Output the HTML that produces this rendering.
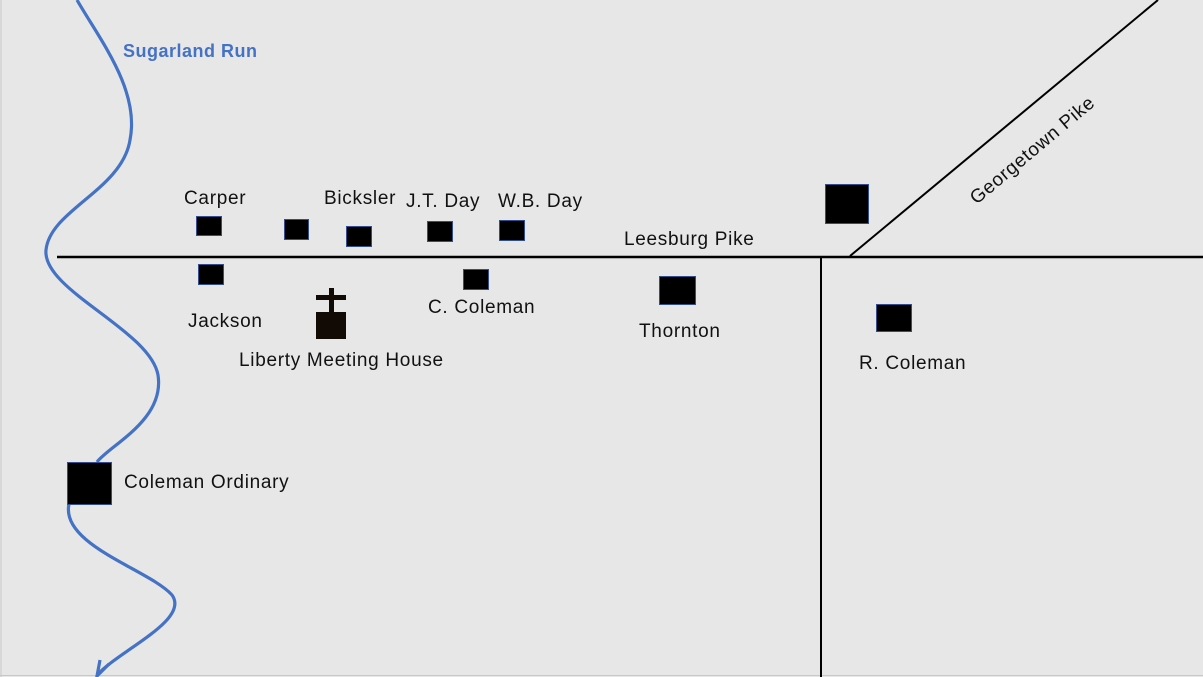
<!DOCTYPE html>
<html><head><style>
html,body{margin:0;padding:0;}
body{width:1203px;height:677px;background:#e7e7e7;position:relative;overflow:hidden;font-family:"Liberation Sans",sans-serif;}
.t{position:absolute;font-size:19px;letter-spacing:0.7px;color:#111;white-space:nowrap;}
.b{position:absolute;background:#000;border:1px solid #2f4f8f;box-sizing:border-box;}
</style></head><body>
<svg width="1203" height="677" style="position:absolute;left:0;top:0">
<line x1="1" y1="0" x2="1" y2="677" stroke="#c8c8c8" stroke-width="1"/>
<line x1="0" y1="675.5" x2="1203" y2="675.5" stroke="#c8c8c8" stroke-width="1"/>
<path d="M77,0 C100,40 140,90 130,140 C122,190 50,210 46,250 C42,290 150,330 158,375 C165,420 110,445 97,462" fill="none" stroke="#4472c4" stroke-width="3.2"/>
<path d="M69,504 C60,545 150,570 172,595 C190,620 120,650 97,675" fill="none" stroke="#4472c4" stroke-width="3.2"/>
<path d="M109,664 L97,676 L100,660" fill="none" stroke="#4472c4" stroke-width="3.2"/>
<line x1="57" y1="257" x2="1203" y2="257" stroke="#000" stroke-width="2.5"/>
<line x1="821" y1="257" x2="821" y2="677" stroke="#000" stroke-width="2"/>
<line x1="850" y1="256" x2="1158" y2="0" stroke="#000" stroke-width="2"/>
<rect x="329" y="288" width="5" height="25" fill="#120a05"/>
<rect x="316" y="295" width="30" height="5" fill="#120a05"/>
<rect x="316" y="312" width="30" height="27" fill="#120a05"/>
</svg>
<div class="b" style="left:196px;top:216px;width:26px;height:20px"></div>
<div class="b" style="left:284px;top:219px;width:25px;height:21px"></div>
<div class="b" style="left:346px;top:226px;width:26px;height:21px"></div>
<div class="b" style="left:427px;top:221px;width:26px;height:21px"></div>
<div class="b" style="left:499px;top:220px;width:26px;height:21px"></div>
<div class="b" style="left:198px;top:264px;width:26px;height:21px"></div>
<div class="b" style="left:463px;top:269px;width:26px;height:21px"></div>
<div class="b" style="left:659px;top:276px;width:37px;height:29px"></div>
<div class="b" style="left:876px;top:304px;width:36px;height:28px"></div>
<div class="b" style="left:825px;top:184px;width:44px;height:40px"></div>
<div class="b" style="left:67px;top:462px;width:45px;height:43px"></div>
<div class="t" style="left:123px;top:41px;color:#4472c4;font-weight:bold;font-size:18px;letter-spacing:0.5px">Sugarland Run</div>
<div class="t" style="left:184px;top:188px">Carper</div>
<div class="t" style="left:324px;top:188px">Bicksler</div>
<div class="t" style="left:406px;top:191px">J.T. Day</div>
<div class="t" style="left:498px;top:191px">W.B. Day</div>
<div class="t" style="left:624px;top:229px">Leesburg Pike</div>
<div class="t" style="left:188px;top:311px">Jackson</div>
<div class="t" style="left:428px;top:297px">C. Coleman</div>
<div class="t" style="left:639px;top:321px">Thornton</div>
<div class="t" style="left:239px;top:350px">Liberty Meeting House</div>
<div class="t" style="left:859px;top:353px">R. Coleman</div>
<div class="t" style="left:124px;top:472px">Coleman Ordinary</div>
<div class="t" style="left:955px;top:140px;transform:rotate(-40deg);transform-origin:center">Georgetown Pike</div>
</body></html>
